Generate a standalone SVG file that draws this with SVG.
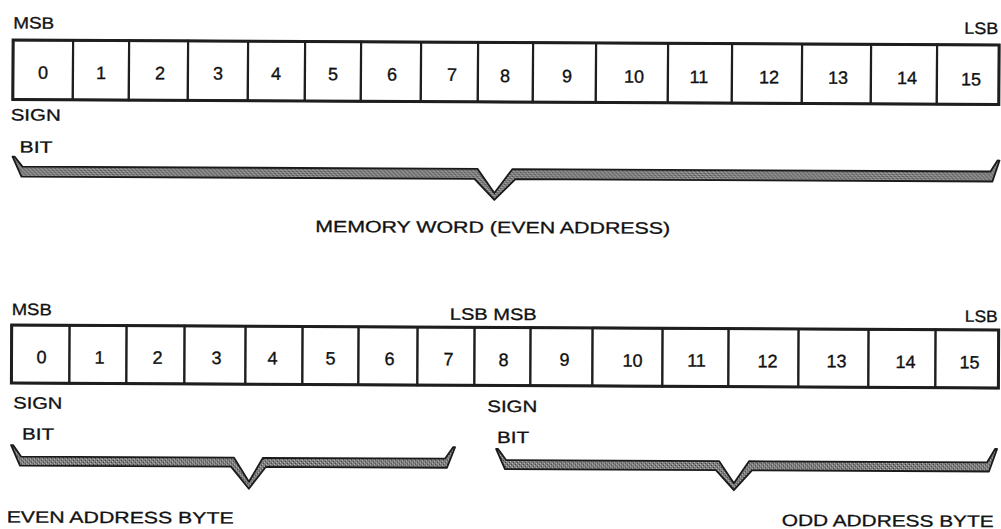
<svg xmlns="http://www.w3.org/2000/svg" width="1001" height="529" viewBox="0 0 1001 529">
<style>
.cell{fill:#fff;stroke:#1e1e1e;stroke-width:2.2}
.frame{fill:none;stroke:#1e1e1e;stroke-width:3}
.num{font-family:"Liberation Sans",Arial,sans-serif;font-size:18px;fill:#111;stroke:#111;stroke-width:0.35;text-anchor:middle}
.lbl{font-family:"Liberation Sans",Arial,sans-serif;font-size:16.5px;fill:#111;stroke:#111;stroke-width:0.3}
.brace{fill:url(#dither);stroke:#1a1a1a;stroke-width:1.8;stroke-linejoin:round}
</style>
<defs>
<pattern id="dither" width="4" height="4" patternUnits="userSpaceOnUse">
<rect width="4" height="4" fill="#7e7e7e"/>
<rect x="0" y="0" width="1" height="1" fill="#3c3c3c"/>
<rect x="2" y="2" width="1" height="1" fill="#3c3c3c"/>
<rect x="3" y="1" width="1" height="1" fill="#bdbdbd"/>
<rect x="1" y="3" width="1" height="1" fill="#bdbdbd"/>
</pattern>
</defs>
<rect width="1001" height="529" fill="#fff"/>
<g transform="rotate(0.29 500 264)">
<g id="word">
<g id="w0"><rect class="cell" x="12" y="42.5" width="60" height="59.5"/><text class="num" x="42" y="81">0</text></g>
<g id="w1"><rect class="cell" x="72" y="42.5" width="56" height="59.5"/><text class="num" x="100" y="81">1</text></g>
<g id="w2"><rect class="cell" x="128" y="42.5" width="59" height="59.5"/><text class="num" x="159" y="81">2</text></g>
<g id="w3"><rect class="cell" x="187" y="42.5" width="60" height="59.5"/><text class="num" x="217" y="81">3</text></g>
<g id="w4"><rect class="cell" x="247" y="42.5" width="57" height="59.5"/><text class="num" x="275" y="81">4</text></g>
<g id="w5"><rect class="cell" x="304" y="42.5" width="56" height="59.5"/><text class="num" x="332" y="81">5</text></g>
<g id="w6"><rect class="cell" x="360" y="42.5" width="60" height="59.5"/><text class="num" x="391" y="81">6</text></g>
<g id="w7"><rect class="cell" x="420" y="42.5" width="57" height="59.5"/><text class="num" x="451" y="81">7</text></g>
<g id="w8"><rect class="cell" x="477" y="42.5" width="55" height="59.5"/><text class="num" x="504" y="82">8</text></g>
<g id="w9"><rect class="cell" x="532" y="42.5" width="63" height="59.5"/><text class="num" x="566" y="82">9</text></g>
<g id="w10"><rect class="cell" x="595" y="42.5" width="72" height="59.5"/><text class="num" x="633" y="82">10</text></g>
<g id="w11"><rect class="cell" x="667" y="42.5" width="64" height="59.5"/><text class="num" x="698" y="82">11</text></g>
<g id="w12"><rect class="cell" x="731" y="42.5" width="70" height="59.5"/><text class="num" x="768" y="82">12</text></g>
<g id="w13"><rect class="cell" x="801" y="42.5" width="69" height="59.5"/><text class="num" x="837" y="82">13</text></g>
<g id="w14"><rect class="cell" x="870" y="42.5" width="66" height="59.5"/><text class="num" x="906" y="82">14</text></g>
<g id="w15"><rect class="cell" x="936" y="42.5" width="62" height="59.5"/><text class="num" x="970" y="83">15</text></g>
<rect class="frame" x="12" y="42.5" width="986" height="59.5"/>
</g>
<g id="word-labels">
<text class="lbl" x="12" y="31" textLength="41" lengthAdjust="spacingAndGlyphs">MSB</text>
<text class="lbl" x="963" y="31.5" textLength="34" lengthAdjust="spacingAndGlyphs">LSB</text>
<text class="lbl" x="10" y="123" textLength="50" lengthAdjust="spacingAndGlyphs">SIGN</text>
<text class="lbl" x="19" y="155" textLength="33" lengthAdjust="spacingAndGlyphs">BIT</text>
<text class="lbl" x="315" y="233" textLength="355" lengthAdjust="spacingAndGlyphs">MEMORY WORD (EVEN ADDRESS)</text>
</g>
<g id="bytes">
<g id="b0"><rect class="cell" x="12" y="327.5" width="58" height="58"/><text class="num" x="42" y="365.5">0</text></g>
<g id="b1"><rect class="cell" x="70" y="327.5" width="57" height="58"/><text class="num" x="100" y="365.5">1</text></g>
<g id="b2"><rect class="cell" x="127" y="327.5" width="58" height="58"/><text class="num" x="158" y="365.5">2</text></g>
<g id="b3"><rect class="cell" x="185" y="327.5" width="61" height="58"/><text class="num" x="217" y="365.5">3</text></g>
<g id="b4"><rect class="cell" x="246" y="327.5" width="57" height="58"/><text class="num" x="273" y="365.5">4</text></g>
<g id="b5"><rect class="cell" x="303" y="327.5" width="56" height="58"/><text class="num" x="331" y="365.5">5</text></g>
<g id="b6"><rect class="cell" x="359" y="327.5" width="59" height="58"/><text class="num" x="390" y="365.5">6</text></g>
<g id="b7"><rect class="cell" x="418" y="327.5" width="57" height="58"/><text class="num" x="449" y="365.5">7</text></g>
<g id="b8"><rect class="cell" x="475" y="327.5" width="56" height="58"/><text class="num" x="504" y="366">8</text></g>
<g id="b9"><rect class="cell" x="531" y="327.5" width="62" height="58"/><text class="num" x="565" y="365.5">9</text></g>
<g id="b10"><rect class="cell" x="593" y="327.5" width="70" height="58"/><text class="num" x="633" y="366">10</text></g>
<g id="b11"><rect class="cell" x="663" y="327.5" width="66" height="58"/><text class="num" x="697" y="365.5">11</text></g>
<g id="b12"><rect class="cell" x="729" y="327.5" width="70" height="58"/><text class="num" x="768" y="366">12</text></g>
<g id="b13"><rect class="cell" x="799" y="327.5" width="70" height="58"/><text class="num" x="837" y="365.5">13</text></g>
<g id="b14"><rect class="cell" x="869" y="327.5" width="67" height="58"/><text class="num" x="906" y="366">14</text></g>
<g id="b15"><rect class="cell" x="936" y="327.5" width="63" height="58"/><text class="num" x="970" y="366">15</text></g>
<rect class="frame" x="12" y="327.5" width="987" height="58"/>
</g>
<g id="byte-labels">
<text class="lbl" x="12" y="317.5" textLength="40" lengthAdjust="spacingAndGlyphs">MSB</text>
<text class="lbl" x="450" y="320" textLength="87" lengthAdjust="spacingAndGlyphs">LSB MSB</text>
<text class="lbl" x="965" y="319.5" textLength="33" lengthAdjust="spacingAndGlyphs">LSB</text>
<text class="lbl" x="14" y="411" textLength="49" lengthAdjust="spacingAndGlyphs">SIGN</text>
<text class="lbl" x="23" y="442" textLength="32" lengthAdjust="spacingAndGlyphs">BIT</text>
<text class="lbl" x="488" y="412" textLength="50" lengthAdjust="spacingAndGlyphs">SIGN</text>
<text class="lbl" x="498" y="443" textLength="32" lengthAdjust="spacingAndGlyphs">BIT</text>
<text class="lbl" x="8" y="525" textLength="227" lengthAdjust="spacingAndGlyphs">EVEN ADDRESS BYTE</text>
<text class="lbl" x="783" y="524.5" textLength="212" lengthAdjust="spacingAndGlyphs">ODD ADDRESS BYTE</text>
</g>
<g id="connectors">
<path class="brace" d="M12,159 L14,159 L22,169 L477,169 L494,193 L512,169 L990,169 L997,158 L999,158 L992,179 L515,179 L494,200 L474,179 L21,179 Z"/>
<path class="brace" d="M12,447.5 L14,447.5 L22,459 L235,459 L250,483 L264,459 L446,459 L454,447.5 L456,447.5 L448,468 L267,468 L250,490 L232,468 L21,468 Z"/>
<path class="brace" d="M497,449 L499,449 L507,460 L720,460 L735,482 L750,460 L988,460 L996,446.5 L998,446.5 L990,469 L753,469 L735,489 L717,469 L506,469 Z"/>
</g>
</g>
</svg>
